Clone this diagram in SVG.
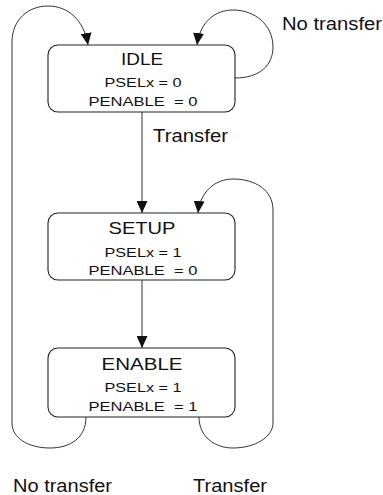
<svg xmlns="http://www.w3.org/2000/svg" width="383" height="495" viewBox="0 0 383 495">
<defs>
<marker id="arr" markerUnits="userSpaceOnUse" markerWidth="12" markerHeight="11" refX="12" refY="5.5" orient="auto">
<path d="M0,0 L12,5.5 L0,11 z" fill="#111"/>
</marker>
<style>
.box{fill:#fff;stroke:#222;stroke-width:1.1}
.ln{fill:none;stroke:#333;stroke-width:1}
text{font-family:"Liberation Sans",Arial,sans-serif;fill:#111}
.t{font-size:17px;text-anchor:middle}
.s{font-size:13.5px;text-anchor:middle}
.l{font-size:17.5px}
</style>
</defs>
<rect width="383" height="495" fill="#fff"/>
<g id="connectors">
<path class="ln" d="M86,417 C86,438 70,448 50,448 C28,448 12,438 12,423 L12,42 C12,20 28,6 48,6 C68,6 84,20 88,45" marker-end="url(#arr)"/>
<path class="ln" d="M235,78 C260,78 273,65 273,47 C273,25 255,10 233,10 C215,10 200,22 197,45" marker-end="url(#arr)"/>
<path class="ln" d="M142,112 L142,213" marker-end="url(#arr)"/>
<path class="ln" d="M199,417 C199,437 215,448 233,448 C255,448 273,437 273,423 L273,210 C273,190 255,179 233,179 C215,179 200,192 198,213" marker-end="url(#arr)"/>
<path class="ln" d="M142,280 L142,348" marker-end="url(#arr)"/>
<text class="l" x="282" y="30" textLength="100" lengthAdjust="spacingAndGlyphs">No transfer</text>
<text class="l" x="153" y="142" textLength="75" lengthAdjust="spacingAndGlyphs">Transfer</text>
<text class="l" x="13" y="492" textLength="99" lengthAdjust="spacingAndGlyphs">No transfer</text>
<text class="l" x="193" y="492" textLength="74" lengthAdjust="spacingAndGlyphs">Transfer</text>
</g>
<g id="idle">
<rect class="box" x="48" y="45" width="187" height="67" rx="10"/>
<text class="t" x="142" y="65" textLength="42" lengthAdjust="spacingAndGlyphs">IDLE</text>
<text class="s" x="143" y="87" textLength="77" lengthAdjust="spacingAndGlyphs">PSELx = 0</text>
<text class="s" x="143" y="106" textLength="109" lengthAdjust="spacingAndGlyphs" xml:space="preserve">PENABLE  = 0</text>
</g>
<g id="setup">
<rect class="box" x="48" y="213" width="187" height="67" rx="10"/>
<text class="t" x="142" y="234" textLength="67" lengthAdjust="spacingAndGlyphs">SETUP</text>
<text class="s" x="143" y="257" textLength="77" lengthAdjust="spacingAndGlyphs">PSELx = 1</text>
<text class="s" x="143" y="275" textLength="109" lengthAdjust="spacingAndGlyphs" xml:space="preserve">PENABLE  = 0</text>
</g>
<g id="enable">
<rect class="box" x="48" y="348" width="187" height="69" rx="10"/>
<text class="t" x="142" y="370" textLength="81" lengthAdjust="spacingAndGlyphs">ENABLE</text>
<text class="s" x="143" y="392" textLength="77" lengthAdjust="spacingAndGlyphs">PSELx = 1</text>
<text class="s" x="143" y="411" textLength="109" lengthAdjust="spacingAndGlyphs" xml:space="preserve">PENABLE  = 1</text>
</g>
</svg>
